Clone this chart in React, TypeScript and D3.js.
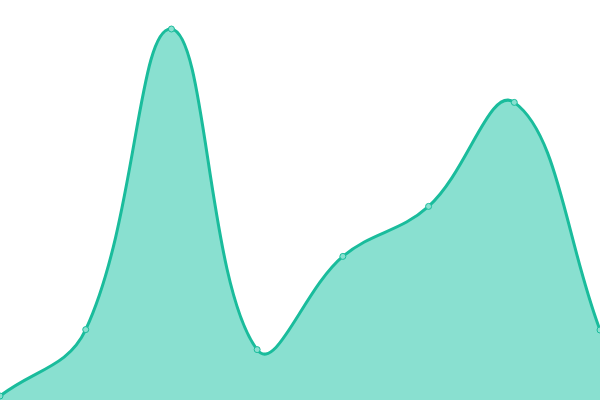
import { useRef, useEffect } from 'react';
import * as d3 from 'd3';

const labels = ['A', 'B', 'C', 'D', 'E', 'F', 'G', 'H'];
const values = [1, 17.6, 92.75, 12.6, 35.9, 48.4, 74.4, 17.5];

const WIDTH = 600;
const HEIGHT = 400;
const TENSION = 0.4;

// distance-weighted bezier spline (same idea as a "tension 0.4" spline)
class TensionSpline {
  _context: any;
  _t: number;
  _line: number = NaN;
  _x: number[] = [];
  _y: number[] = [];

  constructor(context: any, t: number) {
    this._context = context;
    this._t = t;
  }
  areaStart() {
    this._line = 0;
  }
  areaEnd() {
    this._line = NaN;
  }
  lineStart() {
    this._x = [];
    this._y = [];
  }
  point(x: number, y: number) {
    this._x.push(+x);
    this._y.push(+y);
  }
  lineEnd() {
    const xs = this._x;
    const ys = this._y;
    const n = xs.length;
    const ctx = this._context;
    if (n) {
      this._line ? ctx.lineTo(xs[0], ys[0]) : ctx.moveTo(xs[0], ys[0]);
      const prevCp: [number, number][] = [];
      const nextCp: [number, number][] = [];
      for (let i = 0; i < n; i++) {
        const p = Math.max(i - 1, 0);
        const q = Math.min(i + 1, n - 1);
        const d01 = Math.hypot(xs[i] - xs[p], ys[i] - ys[p]);
        const d12 = Math.hypot(xs[q] - xs[i], ys[q] - ys[i]);
        let s01 = d01 / (d01 + d12);
        let s12 = d12 / (d01 + d12);
        if (isNaN(s01)) s01 = 0;
        if (isNaN(s12)) s12 = 0;
        const fa = this._t * s01;
        const fb = this._t * s12;
        const dx = xs[q] - xs[p];
        const dy = ys[q] - ys[p];
        prevCp.push([xs[i] - fa * dx, ys[i] - fa * dy]);
        nextCp.push([xs[i] + fb * dx, ys[i] + fb * dy]);
      }
      for (let i = 0; i < n - 1; i++) {
        ctx.bezierCurveTo(
          nextCp[i][0],
          nextCp[i][1],
          prevCp[i + 1][0],
          prevCp[i + 1][1],
          xs[i + 1],
          ys[i + 1]
        );
      }
    }
    if (this._line || (this._line !== 0 && n === 1)) ctx.closePath();
    this._line = 1 - this._line;
  }
}

const curveTension = (context: any) => new TensionSpline(context, TENSION);

export default function App() {
  const svgRef = useRef<SVGSVGElement>(null);

  useEffect(() => {
    document.body.style.margin = '0';
    if (!svgRef.current) return;

    const svg = d3.select(svgRef.current);
    svg.selectAll('*').remove();

    const x = d3.scalePoint<string>().domain(labels).range([0, WIDTH]);
    const y = d3.scaleLinear().domain([0, 100]).range([HEIGHT, 0]);

    const data = labels.map((l, i) => ({ label: l, value: values[i] }));

    const area = d3
      .area<{ label: string; value: number }>()
      .x((d) => x(d.label) || 0)
      .y0(HEIGHT)
      .y1((d) => y(d.value))
      .curve(curveTension as any);

    const line = d3
      .line<{ label: string; value: number }>()
      .x((d) => x(d.label) || 0)
      .y((d) => y(d.value))
      .curve(curveTension as any);

    svg.append('path').attr('d', area(data)).attr('fill', '#89e0d0');

    svg
      .append('path')
      .attr('d', line(data))
      .attr('fill', 'none')
      .attr('stroke', '#1abc9c')
      .attr('stroke-width', 3);

    svg
      .selectAll('.dot')
      .data(data)
      .enter()
      .append('circle')
      .attr('class', 'dot')
      .attr('cx', (d) => x(d.label) || 0)
      .attr('cy', (d) => y(d.value))
      .attr('r', 3)
      .attr('fill', '#89e0d0')
      .attr('stroke', '#1abc9c')
      .attr('stroke-width', 1);
  }, []);

  return <svg ref={svgRef} width={WIDTH} height={HEIGHT} style={{ display: 'block' }} />;
}
